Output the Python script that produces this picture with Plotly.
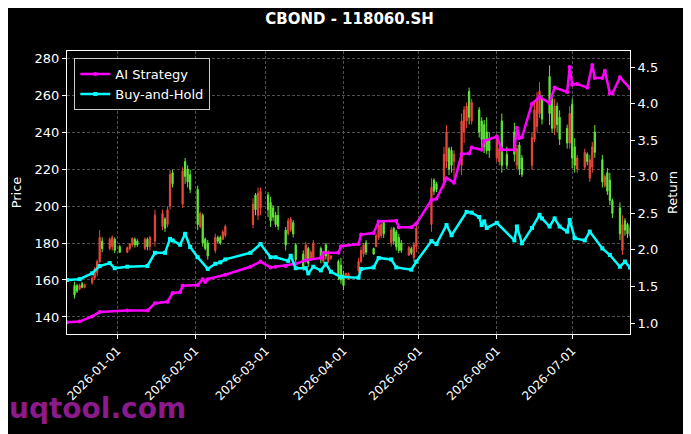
import plotly.graph_objects as go

# daily candles (red = up, green = down)
candle_dates = [
    '2025-12-15', '2025-12-16', '2025-12-17', '2025-12-18', '2025-12-19',
    '2025-12-22', '2025-12-23', '2025-12-24', '2025-12-25', '2025-12-26',
    '2025-12-29', '2025-12-30', '2025-12-31', '2026-01-02',
    '2026-01-05', '2026-01-06', '2026-01-07', '2026-01-08', '2026-01-09',
    '2026-01-12', '2026-01-13', '2026-01-14', '2026-01-16',
    '2026-01-19', '2026-01-20', '2026-01-21', '2026-01-22', '2026-01-23',
    '2026-01-27', '2026-01-28', '2026-01-29', '2026-01-30',
    '2026-02-02', '2026-02-03', '2026-02-04', '2026-02-05', '2026-02-06',
    '2026-02-09', '2026-02-10', '2026-02-11', '2026-02-12', '2026-02-13',
    '2026-02-24', '2026-02-25', '2026-02-26', '2026-02-27',
    '2026-03-02', '2026-03-03', '2026-03-04', '2026-03-05', '2026-03-06',
    '2026-03-09', '2026-03-10', '2026-03-11', '2026-03-12', '2026-03-13',
    '2026-03-16', '2026-03-17', '2026-03-18', '2026-03-19', '2026-03-20',
    '2026-03-23', '2026-03-24', '2026-03-25', '2026-03-26', '2026-03-27',
    '2026-03-30', '2026-03-31', '2026-04-01', '2026-04-02', '2026-04-03',
    '2026-04-07', '2026-04-08', '2026-04-09', '2026-04-10',
    '2026-04-13', '2026-04-14', '2026-04-15', '2026-04-16', '2026-04-17',
    '2026-04-20', '2026-04-21', '2026-04-22', '2026-04-23', '2026-04-24',
    '2026-04-27', '2026-04-28', '2026-04-29', '2026-04-30',
    '2026-05-06', '2026-05-07', '2026-05-08',
    '2026-05-11', '2026-05-12', '2026-05-13', '2026-05-14', '2026-05-15',
    '2026-05-18', '2026-05-19', '2026-05-20', '2026-05-21', '2026-05-22',
    '2026-05-25', '2026-05-26', '2026-05-27', '2026-05-28', '2026-05-29',
    '2026-06-01', '2026-06-02', '2026-06-03', '2026-06-05',
    '2026-06-08', '2026-06-09', '2026-06-10', '2026-06-11',
    '2026-06-15', '2026-06-16', '2026-06-17', '2026-06-18', '2026-06-19',
    '2026-06-22', '2026-06-23', '2026-06-24', '2026-06-25', '2026-06-26',
    '2026-06-29', '2026-06-30', '2026-07-01', '2026-07-02', '2026-07-03',
    '2026-07-06', '2026-07-07', '2026-07-08', '2026-07-09', '2026-07-10',
    '2026-07-13', '2026-07-14', '2026-07-15', '2026-07-16', '2026-07-17',
    '2026-07-20', '2026-07-21', '2026-07-22', '2026-07-23', '2026-07-24',
]
opens = [
    157, 157, 155, 158, 156,
    158.5, 161, 164, 170, 181,
    177, 178, 182, 178,
    175, 177, 179, 182, 181,
    177, 182, 178, 181,
    189, 193, 190, 200, 218,
    201, 224, 220, 217,
    209, 189, 195, 182, 180,
    176, 183, 183, 182, 184,
    190, 206, 195, 199,
    206, 202, 199, 195, 195,
    187, 185, 187, 191, 179,
    174, 170, 177, 171, 172,
    177, 170, 179, 170, 171.5,
    170, 168, 163, 162, 161,
    165, 170, 174, 180,
    177, 178, 183, 184, 192,
    180, 188, 186, 183, 180,
    173.5, 177, 172, 178,
    190, 214, 212,
    212, 224, 231, 230, 224,
    222, 240, 246, 262, 246,
    252, 246, 244, 240, 236,
    226, 224, 246, 228,
    240, 222, 233, 226,
    222, 236, 243, 250, 258,
    270, 258, 242, 254, 248,
    242, 234, 255, 232, 220,
    221, 228, 215, 221, 240,
    225, 211, 218, 214, 203,
    199, 176, 192, 190, 184,
]
highs = [
    159, 158, 158, 159, 158,
    162, 167, 171, 187, 183,
    183, 184, 183, 179,
    178, 180, 183, 183, 182,
    183, 183, 184, 198,
    198, 194, 199.5, 219.5, 219.5,
    221, 226, 222, 219.5,
    211, 197, 196, 183, 181.6,
    185, 184, 184, 187, 190,
    204, 207, 210, 210,
    207.5, 205, 200.5, 196.8, 200,
    188.6, 193.5, 194, 192.4, 180,
    176, 180.5, 178, 176, 181.6,
    178, 175, 180, 176, 173.5,
    171, 172, 165, 164, 164,
    172, 178, 180, 181.6,
    177.5, 185, 192.4, 191, 192.4,
    188.6, 188.6, 187, 185, 181.6,
    178.3, 178, 180.5, 191,
    215, 215, 213,
    232, 243.8, 232, 232, 230,
    250, 254, 256, 264, 258,
    253.5, 248, 246.5, 248, 240,
    238.8, 233, 250, 232,
    245, 233, 234.6, 227.6,
    240, 256, 261.6, 267, 260,
    276, 260, 258, 256, 251.7,
    244, 254, 258, 236.7, 227.6,
    231, 229, 227.6, 234.6, 243.8,
    227.6, 217, 220.5, 218, 204,
    202, 195, 193.5, 191, 190,
]
lows = [
    150, 153, 154.5, 155.5, 155.5,
    157.5, 160, 162, 169, 175,
    176, 176, 174.5, 174.5,
    174.5, 176, 178, 177.5, 178,
    176, 176, 176, 178,
    187, 186, 188.5, 198, 210,
    199, 212, 210, 207,
    187, 188, 178, 176, 171,
    174.5, 180, 179, 181.6, 183,
    188, 195, 192.4, 195,
    194, 188.6, 192, 188.6, 187,
    176, 184, 186, 183, 169,
    165, 169, 167, 170.5, 171,
    169, 169, 171, 169, 171,
    160, 158, 154.6, 161, 160,
    164, 169, 172.4, 173.5,
    173.5, 177.8, 181.6, 182.7, 182.7,
    178, 179, 176, 174.6, 174.6,
    172.9, 173.5, 169.7, 175,
    186, 206, 207.5,
    209.7, 220.5, 216.7, 218, 215,
    216.7, 234, 242, 244, 244,
    237, 232, 228.6, 228, 226,
    224, 222, 218, 220,
    224, 220, 216.7, 215.7,
    219.5, 234.6, 240, 247.6, 244,
    243.8, 239.5, 238.4, 240, 233,
    231, 231, 220.5, 218, 218,
    219.5, 222, 213, 218, 226,
    210, 210, 206, 200.5, 193.5,
    181.6, 173.5, 184, 182.7, 183,
]
closes = [
    152, 154, 157, 156, 157.5,
    161, 166, 170, 183, 177,
    182, 183, 176, 175,
    177.5, 179.5, 182.5, 179, 179,
    182, 178, 183, 195,
    196, 188, 198, 217, 212,
    219, 216, 213, 209,
    190, 196, 180, 177, 173,
    183, 181, 180, 186, 189,
    201, 198, 207, 208,
    198, 192, 194, 190, 189,
    179, 192, 193, 185, 171,
    167, 179, 169, 175, 180,
    171, 174, 173, 175, 173,
    163, 160, 157, 163.5, 163,
    170, 176, 179, 175,
    174, 184, 190, 190, 185,
    187, 181, 178, 176, 176,
    177.5, 174.5, 179, 188,
    210, 208, 209,
    228, 240, 220, 222, 228,
    246, 252, 254, 248, 256,
    240, 236, 232, 230, 230,
    236, 231, 222, 222,
    228, 231, 220, 217,
    237, 252, 258, 262, 247,
    250, 242, 254, 244, 236,
    234, 250, 226, 222, 226,
    229, 224, 225, 232, 229,
    213, 216, 208, 203, 196,
    185, 190, 187, 185, 188,
]

ai_dates = [
    '2025-12-12', '2025-12-17', '2025-12-22', '2025-12-25', '2026-01-05',
    '2026-01-13', '2026-01-16', '2026-01-21', '2026-01-23', '2026-01-26',
    '2026-01-27', '2026-02-02', '2026-02-04', '2026-02-05', '2026-02-06',
    '2026-02-13', '2026-02-23', '2026-02-27', '2026-03-03', '2026-03-05',
    '2026-03-09', '2026-03-13', '2026-03-17', '2026-03-23', '2026-03-24',
    '2026-03-30', '2026-03-31', '2026-04-07', '2026-04-08', '2026-04-13',
    '2026-04-15', '2026-04-22', '2026-04-23', '2026-04-28', '2026-04-30',
    '2026-05-06', '2026-05-08', '2026-05-12', '2026-05-15', '2026-05-18',
    '2026-05-21', '2026-05-22', '2026-05-26', '2026-05-27', '2026-06-01',
    '2026-06-03', '2026-06-08', '2026-06-09', '2026-06-10', '2026-06-11',
    '2026-06-15', '2026-06-18', '2026-06-22', '2026-06-24', '2026-06-29',
    '2026-06-30', '2026-07-01', '2026-07-03', '2026-07-07', '2026-07-09',
    '2026-07-10', '2026-07-13', '2026-07-14', '2026-07-16', '2026-07-17',
    '2026-07-20', '2026-07-24',
]
ai_return = [
    1.01, 1.02, 1.09, 1.15, 1.17,
    1.17, 1.27, 1.29, 1.41, 1.42,
    1.51, 1.52, 1.60, 1.56, 1.60,
    1.66, 1.77, 1.84, 1.76, 1.77,
    1.78, 1.81, 1.86, 1.89, 1.96,
    1.96, 2.05, 2.08, 2.21, 2.23,
    2.39, 2.40, 2.31, 2.31, 2.36,
    2.68, 2.70, 2.98, 2.92, 3.31,
    3.32, 3.40, 3.37, 3.49, 3.55,
    3.37, 3.37, 3.67, 3.53, 3.54,
    4.00, 4.09, 4.01, 4.22, 4.16,
    4.50, 4.26, 4.27, 4.22, 4.53,
    4.35, 4.35, 4.45, 4.14, 4.14,
    4.36, 4.21,
]

bh_dates = [
    '2025-12-12', '2025-12-17', '2025-12-22', '2025-12-25', '2025-12-29',
    '2025-12-31', '2026-01-05', '2026-01-13', '2026-01-16', '2026-01-20',
    '2026-01-22', '2026-01-23', '2026-01-26', '2026-01-28', '2026-01-30',
    '2026-02-02', '2026-02-06', '2026-02-09', '2026-02-11', '2026-02-13',
    '2026-02-23', '2026-02-27', '2026-03-03', '2026-03-05', '2026-03-10',
    '2026-03-11', '2026-03-13', '2026-03-17', '2026-03-18', '2026-03-20',
    '2026-03-23', '2026-03-25', '2026-03-27', '2026-03-31', '2026-04-07',
    '2026-04-08', '2026-04-13', '2026-04-15', '2026-04-20', '2026-04-22',
    '2026-04-28', '2026-04-30', '2026-05-06', '2026-05-08', '2026-05-12',
    '2026-05-14', '2026-05-20', '2026-05-22', '2026-05-25', '2026-05-26',
    '2026-05-27', '2026-05-28', '2026-06-01', '2026-06-08', '2026-06-09',
    '2026-06-11', '2026-06-15', '2026-06-18', '2026-06-19', '2026-06-22',
    '2026-06-24', '2026-06-26', '2026-06-29', '2026-06-30', '2026-07-02',
    '2026-07-06', '2026-07-08', '2026-07-13', '2026-07-16', '2026-07-20',
    '2026-07-22', '2026-07-24',
]
bh_return = [
    1.59, 1.60, 1.68, 1.78, 1.82,
    1.75, 1.77, 1.78, 1.96, 1.96,
    2.15, 2.13, 2.07, 2.22, 2.04,
    1.90, 1.74, 1.81, 1.83, 1.87,
    1.96, 2.08, 1.90, 1.90, 1.85,
    1.92, 1.75, 1.75, 1.68, 1.77,
    1.72, 1.81, 1.70, 1.63, 1.62,
    1.74, 1.76, 1.89, 1.87, 1.76,
    1.73, 1.84, 2.12, 2.08, 2.34,
    2.20, 2.52, 2.51, 2.45, 2.34,
    2.39, 2.30, 2.37, 2.13, 2.32,
    2.09, 2.30, 2.48, 2.43, 2.32,
    2.43, 2.32, 2.25, 2.41, 2.16,
    2.13, 2.25, 2.02, 1.93, 1.77,
    1.84, 1.76,
]

month_ticks = ['2026-01-01', '2026-02-01', '2026-03-01', '2026-04-01',
               '2026-05-01', '2026-06-01', '2026-07-01']

FONT = 'DejaVu Sans'

fig = go.Figure()

fig.add_trace(go.Candlestick(
    x=candle_dates, open=opens, high=highs, low=lows, close=closes,
    increasing=dict(line=dict(color='#e8483a', width=1), fillcolor='#e8483a'),
    decreasing=dict(line=dict(color='#62e83a', width=1), fillcolor='#62e83a'),
    whiskerwidth=0,
    showlegend=False,
))

fig.add_trace(go.Scatter(
    x=ai_dates, y=ai_return, yaxis='y2', name='AI Strategy',
    mode='lines+markers',
    line=dict(color='#ff00ff', width=2.5),
    marker=dict(color='#ff00ff', size=4),
))
fig.add_trace(go.Scatter(
    x=bh_dates, y=bh_return, yaxis='y2', name='Buy-and-Hold',
    mode='lines+markers',
    line=dict(color='#00ffff', width=2.5),
    marker=dict(color='#00ffff', size=4, symbol='square'),
))

# the page body adds an 8px offset, so the figure is sized to the visible area
fig.update_layout(
    width=683, height=426,
    paper_bgcolor='black', plot_bgcolor='black',
    font=dict(family=FONT, color='white', size=12),
    margin=dict(l=59, r=61, t=43, b=100, autoexpand=False),
    title=dict(text='<b>CBOND - 118060.SH</b>', x=0.5, xanchor='center',
               y=0.975, yanchor='middle', font=dict(size=15, color='white')),
    xaxis=dict(
        type='date', automargin=False,
        range=['2025-12-12', '2026-07-24'],
        tickvals=month_ticks, tickformat='%Y-%m-%d', tickangle=-45,
        rangeslider=dict(visible=False),
        showline=True, linecolor='white', linewidth=1, mirror=True,
        ticks='outside', tickcolor='white', ticklen=4,
        showgrid=True, gridcolor='#505050', griddash='3px,2px', gridwidth=0.6,
        zeroline=False, tickfont=dict(size=12),
    ),
    yaxis=dict(
        automargin=False,
        range=[130.8, 283.8], tickvals=[140, 160, 180, 200, 220, 240, 260, 280],
        title=dict(text='Price', font=dict(size=13), standoff=10),
        showline=True, linecolor='white', linewidth=1, mirror=True,
        ticks='outside', tickcolor='white', ticklen=4,
        showgrid=True, gridcolor='#505050', griddash='3px,2px', gridwidth=0.6,
        zeroline=False, tickfont=dict(size=13),
    ),
    yaxis2=dict(
        automargin=False,
        overlaying='y', side='right',
        range=[0.85, 4.72], tickvals=[1.0, 1.5, 2.0, 2.5, 3.0, 3.5, 4.0, 4.5],
        tickformat='.1f',
        title=dict(text='Return', font=dict(size=13), standoff=10),
        showline=False, ticks='outside', tickcolor='white', ticklen=4,
        showgrid=False, zeroline=False, tickfont=dict(size=13),
    ),
    legend=dict(
        x=0.013, y=0.975, xanchor='left', yanchor='top',
        bgcolor='black', bordercolor='#cccccc', borderwidth=1,
        font=dict(size=13, color='white'),
        tracegroupgap=2,
    ),
    annotations=[dict(
        text='<b>uqtool.com</b>', xref='paper', yref='paper',
        x=-0.106, y=-0.265, xanchor='left', yanchor='middle',
        showarrow=False, font=dict(size=28, color='#8b1a8b', family=FONT),
    )],
)

fig.write_html("out.html")
